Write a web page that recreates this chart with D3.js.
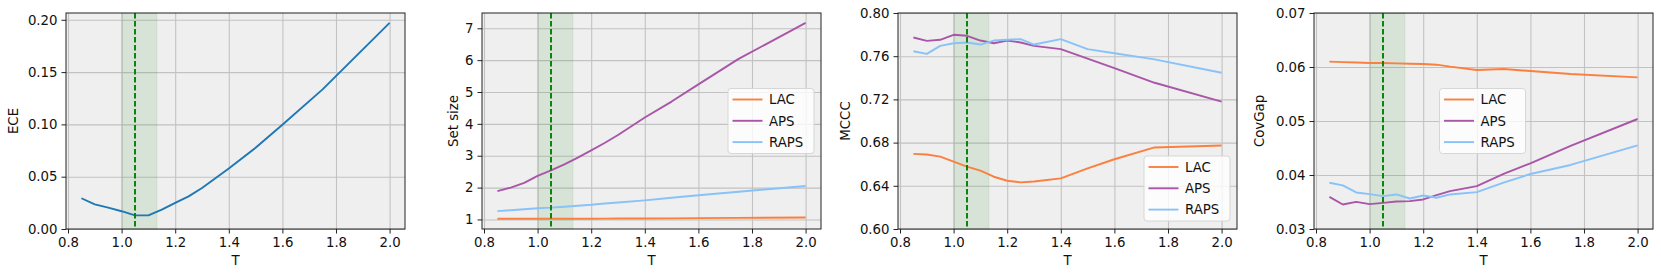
<!DOCTYPE html>
<html lang="en">
<head>
    <meta charset="UTF-8">
    <title>Temperature sweep</title>
    <style>
        html, body {
            margin: 0px;
            padding: 0px;
            background-color: white;
            font-family: 'DejaVu Sans', sans-serif;
        }
        .grid line {
            stroke: #c2c2c2;
            stroke-width: 1.1px;
        }
        .axis text {
            font-size: 13.3px;
            fill: #111;
        }
        .axis path, .axis line {
            stroke: #222;
        }
        text.label {
            font-size: 13.3px;
            fill: #111;
        }
    </style>
</head>
<body>
    <div id="vis"></div>
    <script src="https://d3js.org/d3.v7.min.js"></script>
    <script>

        // temperature values (x axis) shared by every panel
        var temps = [0.85, 0.9, 0.95, 1.0, 1.05, 1.1, 1.15, 1.2, 1.25, 1.3, 1.4, 1.5, 1.6, 1.75, 2.0];
        var xTicks = [0.8, 1.0, 1.2, 1.4, 1.6, 1.8, 2.0];

        var seriesNames = ["LAC", "APS", "RAPS"];
        var seriesColors = ["#fb7f3f", "#a956a8", "#88c2f8"];

        // panel 1 - ECE
        var ece = [0.0294, 0.0236, 0.0204, 0.0170, 0.0130, 0.0130, 0.0185, 0.0250, 0.0312, 0.0392, 0.0578, 0.0776, 0.0997, 0.1335, 0.1970];
        var eceTicks = [0, 0.05, 0.10, 0.15, 0.20];

        // panel 2 - set size
        var setSizeLAC  = [1.02, 1.02, 1.02, 1.02, 1.02, 1.02, 1.02, 1.02, 1.025, 1.03, 1.03, 1.035, 1.04, 1.05, 1.06];
        var setSizeAPS  = [1.89, 2.00, 2.15, 2.37, 2.54, 2.73, 2.94, 3.17, 3.40, 3.65, 4.20, 4.70, 5.24, 6.04, 7.17];
        var setSizeRAPS = [1.26, 1.29, 1.32, 1.35, 1.37, 1.40, 1.43, 1.46, 1.50, 1.53, 1.60, 1.68, 1.76, 1.87, 2.05];
        var setSizeTicks = [1, 2, 3, 4, 5, 6, 7];

        // panel 3 - MCCC
        var mcccLAC  = [0.6696, 0.6690, 0.6670, 0.6624, 0.6578, 0.6540, 0.6484, 0.6447, 0.6432, 0.6440, 0.6469, 0.6562, 0.6646, 0.6755, 0.6773];
        var mcccAPS  = [0.7773, 0.7742, 0.7752, 0.7798, 0.7789, 0.7745, 0.7720, 0.7745, 0.7727, 0.7696, 0.7665, 0.7578, 0.7490, 0.7354, 0.7180];
        var mcccRAPS = [0.7646, 0.7621, 0.7696, 0.7720, 0.7727, 0.7708, 0.7745, 0.7752, 0.7758, 0.7708, 0.7758, 0.7665, 0.7627, 0.7571, 0.7447];
        var mcccTicks = [0.60, 0.64, 0.68, 0.72, 0.76, 0.80];

        // panel 4 - coverage gap
        var covGapLAC  = [0.06099, 0.06090, 0.06082, 0.06075, 0.06075, 0.06068, 0.06060, 0.06056, 0.06043, 0.06006, 0.05944, 0.05963, 0.05925, 0.05870, 0.05807];
        var covGapAPS  = [0.03596, 0.03453, 0.03503, 0.03460, 0.03484, 0.03510, 0.03516, 0.03547, 0.03627, 0.03702, 0.03795, 0.04019, 0.04217, 0.04540, 0.05037];
        var covGapRAPS = [0.03857, 0.03807, 0.03677, 0.03646, 0.03609, 0.03640, 0.03565, 0.03621, 0.03578, 0.03640, 0.03683, 0.03857, 0.04019, 0.04186, 0.04547];
        var covGapTicks = [0.03, 0.04, 0.05, 0.06, 0.07];

        // chosen temperature and its band
        var bestT = 1.05;
        var band = [1.0, 1.132];

        var panels = [
            {label: "ECE", series: [ece], colors: ["#1f77b4"], yDomain: [0, 0.2065], ticks: eceTicks, fmt: ".2f", legend: null},
            {label: "Set size", series: [setSizeLAC, setSizeAPS, setSizeRAPS], colors: seriesColors, yDomain: [0.70, 7.48], ticks: setSizeTicks, fmt: "d", legend: "center right"},
            {label: "MCCC", series: [mcccLAC, mcccAPS, mcccRAPS], colors: seriesColors, yDomain: [0.60, 0.80], ticks: mcccTicks, fmt: ".2f", legend: "lower right"},
            {label: "CovGap", series: [covGapLAC, covGapAPS, covGapRAPS], colors: seriesColors, yDomain: [0.03, 0.07], ticks: covGapTicks, fmt: ".2f", legend: "center"}
        ];

        var width = 1661;
        var height = 277;
        var panelLeft = [66, 482, 898, 1314];
        var panelWidth = 339;
        var panelTop = 13;
        var panelHeight = 216;
        // baseline of the rotated y label, relative to the panel's left edge
        var yLabelOffset = [-48.5, -24.3, -48, -50];

        var svg = d3.select("#vis")
            .append("svg")
            .attr("width", width)
            .attr("height", height);

        var x_scale = d3.scaleLinear()
            .domain([0.7925, 2.0575])
            .range([0, panelWidth]);

        panels.forEach(function(p, k){

            var g = svg.append("g")
                .attr("transform", "translate(" + panelLeft[k] + "," + panelTop + ")");

            var y_scale = d3.scaleLinear()
                .domain(p.yDomain)
                .range([panelHeight, 0]);

            var clipId = "clip" + k;
            g.append("clipPath").attr("id", clipId)
                .append("rect")
                .attr("width", panelWidth)
                .attr("height", panelHeight);

            // background
            g.append("rect")
                .attr("width", panelWidth)
                .attr("height", panelHeight)
                .attr("fill", "#efefef");

            // grid
            g.append("g")
                .attr("class", "grid")
                .call(d3.axisBottom(x_scale).tickValues(xTicks).tickSize(panelHeight).tickFormat(""))
                .call(function(s){ s.select(".domain").remove(); });

            g.append("g")
                .attr("class", "grid")
                .call(d3.axisLeft(y_scale).tickValues(p.ticks).tickSize(-panelWidth).tickFormat(""))
                .call(function(s){ s.select(".domain").remove(); });

            // optimal temperature band
            g.append("rect")
                .attr("x", x_scale(band[0]))
                .attr("width", x_scale(band[1]) - x_scale(band[0]))
                .attr("y", 0)
                .attr("height", panelHeight)
                .attr("fill", "green")
                .attr("fill-opacity", 0.1)
                .attr("stroke", "green")
                .attr("stroke-opacity", 0.08);

            // lines
            var line = d3.line()
                .x(function(d, i){ return x_scale(temps[i]); })
                .y(function(d){ return y_scale(d); });

            p.series.forEach(function(vals, i){
                g.append("path")
                    .datum(vals)
                    .attr("clip-path", "url(#" + clipId + ")")
                    .attr("fill", "none")
                    .attr("stroke", p.colors[i])
                    .attr("stroke-width", 1.9)
                    .attr("stroke-linejoin", "round")
                    .attr("d", line);
            });

            // dashed line at chosen T
            g.append("line")
                .attr("x1", x_scale(bestT))
                .attr("x2", x_scale(bestT))
                .attr("y1", 0)
                .attr("y2", panelHeight)
                .attr("stroke", "green")
                .attr("stroke-width", 1.9)
                .attr("stroke-dasharray", "5.5,2.5");

            // frame
            g.append("rect")
                .attr("width", panelWidth)
                .attr("height", panelHeight)
                .attr("fill", "none")
                .attr("stroke", "#222")
                .attr("stroke-width", 1);

            // axes
            g.append("g")
                .attr("class", "x axis")
                .attr("transform", "translate(0," + panelHeight + ")")
                .call(d3.axisBottom(x_scale).tickValues(xTicks).tickSize(4.5).tickPadding(4).tickFormat(d3.format(".1f")))
                .call(function(s){ s.select(".domain").remove(); });

            g.append("g")
                .attr("class", "y axis")
                .call(d3.axisLeft(y_scale).tickValues(p.ticks).tickSize(4.5).tickPadding(4).tickFormat(d3.format(p.fmt)))
                .call(function(s){ s.select(".domain").remove(); });

            g.selectAll(".axis text").style("font-family", "'DejaVu Sans', sans-serif");

            // axis labels
            g.append("text")
                .attr("class", "label")
                .attr("x", panelWidth / 2)
                .attr("y", panelHeight + 36)
                .attr("text-anchor", "middle")
                .text("T");

            g.append("text")
                .attr("class", "label")
                .attr("transform", "translate(" + yLabelOffset[k] + "," + (panelHeight / 2) + ") rotate(-90)")
                .attr("text-anchor", "middle")
                .text(p.label);

            // legend
            if (p.legend) {
                var lw = 86, lh = 65;
                var lx, ly;
                if (p.legend === "center right") {
                    lx = panelWidth - 7 - lw; ly = (panelHeight - lh) / 2;
                } else if (p.legend === "lower right") {
                    lx = panelWidth - 7 - lw; ly = panelHeight - 8 - lh;
                } else {
                    lx = (panelWidth - lw) / 2 - 1; ly = (panelHeight - lh) / 2;
                }
                var lg = g.append("g")
                    .attr("transform", "translate(" + lx + "," + ly + ")");
                lg.append("rect")
                    .attr("width", lw)
                    .attr("height", lh)
                    .attr("rx", 3)
                    .attr("fill", "white")
                    .attr("fill-opacity", 0.8)
                    .attr("stroke", "#d6d6d6");
                seriesNames.forEach(function(name, i){
                    var yy = 11 + i * 21.3;
                    lg.append("line")
                        .attr("x1", 4.5).attr("x2", 34.5)
                        .attr("y1", yy).attr("y2", yy)
                        .attr("stroke", p.colors[i])
                        .attr("stroke-width", 1.9);
                    lg.append("text")
                        .attr("class", "label")
                        .attr("x", 41)
                        .attr("y", yy)
                        .attr("dy", "0.36em")
                        .text(name);
                });
            }
        });

    </script>
</body>
</html>
